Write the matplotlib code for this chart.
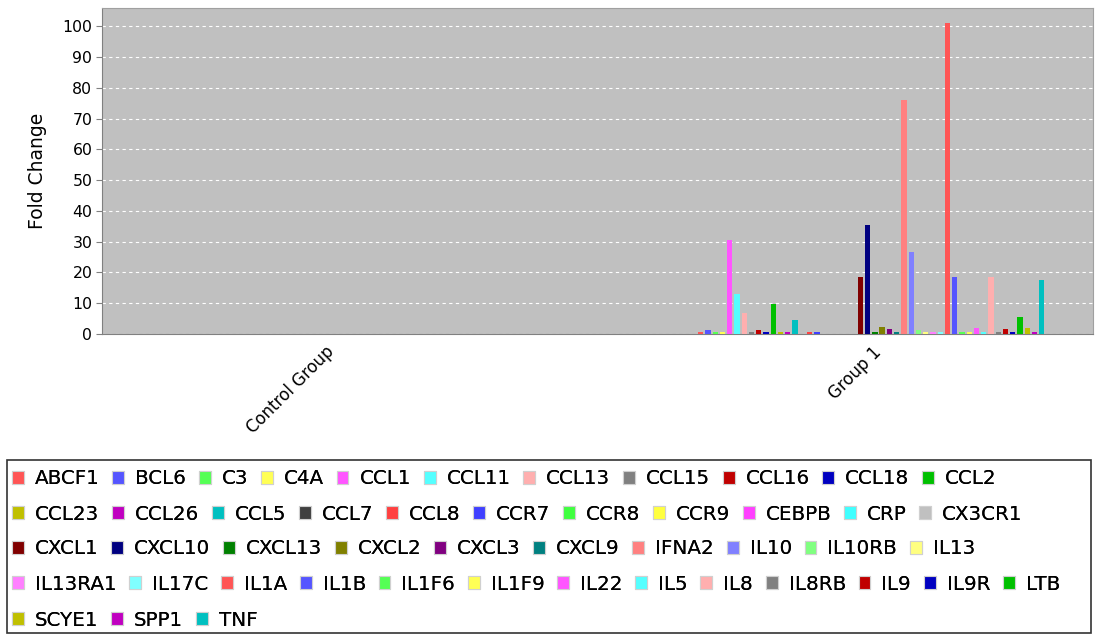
import matplotlib
matplotlib.use("Agg")
import matplotlib.pyplot as plt
import matplotlib.patches as mpatches
import matplotlib.transforms as mtransforms
import numpy as np

plt.rcParams['font.family'] = ['DejaVu Sans']

groups = ["Control Group", "Group 1"]
genes = ["ABCF1", "BCL6", "C3", "C4A", "CCL1", "CCL11", "CCL13", "CCL15", "CCL16", "CCL18", "CCL2",
         "CCL23", "CCL26", "CCL5", "CCL7", "CCL8", "CCR7", "CCR8", "CCR9", "CEBPB", "CRP", "CX3CR1",
         "CXCL1", "CXCL10", "CXCL13", "CXCL2", "CXCL3", "CXCL9", "IFNA2", "IL10", "IL10RB", "IL13",
         "IL13RA1", "IL17C", "IL1A", "IL1B", "IL1F6", "IL1F9", "IL22", "IL5", "IL8", "IL8RB", "IL9", "IL9R", "LTB",
         "SCYE1", "SPP1", "TNF"]
control_values = [0.0] * len(genes)
group1_values = [0.7, 1.4, 0.6, 0.6, 30.7, 13.1, 6.7, 0.6, 1.4, 0.6, 9.6,
                 0.6, 0.6, 4.5, 0.0, 0.6, 0.6, 0.0, 0.0, 0.0, 0.0, 0.0,
                 18.5, 35.6, 0.6, 2.2, 1.5, 0.6, 76.2, 26.7, 1.4, 0.6,
                 0.6, 0.6, 101.0, 18.5, 0.6, 0.6, 2.1, 0.6, 18.4, 0.6, 1.5, 0.6, 5.6,
                 2.1, 0.6, 17.4]
legend_rows = [11, 11, 10, 13, 3]

palette = ["#FF5555", "#5555FF", "#55FF55", "#FFFF55", "#FF55FF", "#55FFFF", "#FFAFAF", "#808080",
           "#C00000", "#0000C0", "#00C000", "#C0C000", "#C000C0", "#00C0C0", "#404040",
           "#FF4040", "#4040FF", "#40FF40", "#FFFF40", "#FF40FF", "#40FFFF", "#C0C0C0",
           "#800000", "#000080", "#008000", "#808000", "#800080", "#008080",
           "#FF8080", "#8080FF", "#80FF80", "#FFFF80", "#FF80FF", "#80FFFF"]
colors = [palette[i % len(palette)] for i in range(len(genes))]

fig = plt.figure(figsize=(10.95, 6.37), dpi=100)
ax = fig.add_axes([102/1095, 1 - 334/637, (1093 - 102)/1095, (334 - 8)/637])
ax.set_facecolor("#C0C0C0")

x = np.arange(len(groups))
slot = 0.01325
bw = 0.0097
n = len(genes)
for i, g in enumerate(genes):
    vals = [control_values[i], group1_values[i]]
    ax.bar(x + (i - (n - 1) / 2) * slot, vals, width=bw, color=colors[i], edgecolor='none', zorder=3)

ax.set_xlim(-0.405, 1.405)
ax.set_ylim(0, 106)
ax.set_yticks(np.arange(0, 101, 10))
ax.yaxis.grid(True, color='white', linestyle=(0, (3, 3)), linewidth=0.8, zorder=1)
ax.set_axisbelow(True)
ax.tick_params(axis='y', labelsize=11.3, length=4, color='#808080', pad=3)
ax.tick_params(axis='x', length=0)
ax.set_ylabel("Fold Change", fontsize=13.5, labelpad=11)
for s in ['top', 'right']:
    ax.spines[s].set_color('#A0A0A0')
for s in ['left', 'bottom']:
    ax.spines[s].set_color('#808080')

ax.set_xticks(x)
ax.set_xticklabels(groups, rotation=45, ha='right', va='top', fontsize=12)
offset = mtransforms.ScaledTranslation(14/100, -4/100, fig.dpi_scale_trans)
for lab in ax.get_xticklabels():
    lab.set_transform(lab.get_transform() + offset)

# Legend: flow layout, one legend per row
row_y = [479, 514, 549, 584, 620]
start = 0
for r, cnt in enumerate(legend_rows):
    handles = [mpatches.Patch(facecolor=colors[k], edgecolor='#D0D0D0', linewidth=0.8)
               for k in range(start, start + cnt)]
    labels = genes[start:start + cnt]
    leg = fig.legend(handles, labels, loc='center left', bbox_to_anchor=(12/1095, 1 - row_y[r]/637),
                     ncol=cnt, frameon=False, fontsize=14.3, handlelength=0.6, handleheight=0.6,
                     handletextpad=0.55, columnspacing=0.64, borderpad=0, borderaxespad=0)
    fig.add_artist(leg)
    start += cnt

box = mpatches.Rectangle((7/1095, 1 - 633/637), (1091 - 7)/1095, (633 - 460)/637,
                         transform=fig.transFigure, fill=False, edgecolor='#333333', linewidth=1.2)
fig.add_artist(box)

fig.savefig("out.png", dpi=100)
